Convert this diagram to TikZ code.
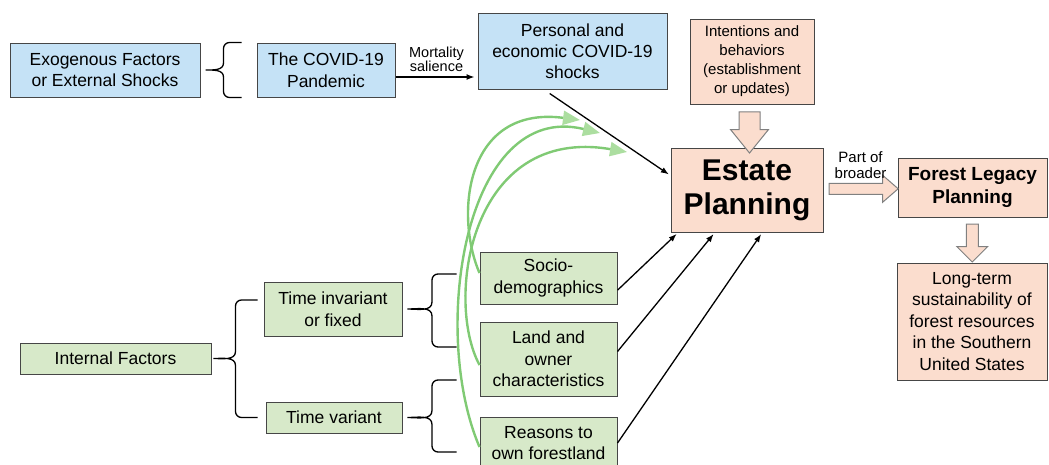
\documentclass[tikz,border=0pt]{standalone}
\usepackage{fontspec}
\setmainfont{Liberation Sans}
\usetikzlibrary{calc}
\usetikzlibrary{positioning}
\usetikzlibrary{arrows.meta}
\usetikzlibrary{shapes.arrows}

\definecolor{exoblue}{RGB}{197,226,246}
\definecolor{planpeach}{RGB}{251,221,206}
\definecolor{intgreen}{RGB}{215,233,201}
\definecolor{linkgreen}{RGB}{128,202,116}
\definecolor{headgreen}{RGB}{172,222,160}
\definecolor{edgegray}{RGB}{70,70,70}

% curly brace: tip, top end, bottom end
\newcommand{\curly}[3]{%
\draw[bracket] let \p1=(#1), \p2=(#2), \p3=(#3), \n1={(\x1+\x2)/2} in
  (\p2) -- ({\n1+6pt},\y2) to[out=180,in=90] (\n1,{\y2-6pt}) -- (\n1,{\y1+7pt})
  to[out=270,in=0] (\p1) to[out=0,in=90] (\n1,{\y1-7pt}) -- (\n1,{\y3+6pt})
  to[out=270,in=180] ({\n1+6pt},\y3) -- (\p3);}

\begin{document}
\begin{tikzpicture}[x=1pt,y=1pt,
box/.style={draw=edgegray,line width=1pt,align=center,inner sep=0pt,font=\fontsize{17.5}{21.5}\selectfont},
exo/.style={box,fill=exoblue},
intf/.style={box,fill=intgreen},
plan/.style={box,fill=planpeach},
bracket/.style={line width=1.3pt},
link/.style={-{Latex[length=8pt,width=6pt]},line width=1.3pt,shorten >=2pt},
greenlink/.style={-{Triangle[length=17pt,width=14pt,fill=headgreen,color=headgreen]},line width=2.4pt,draw=linkgreen},
blockarrow/.style={single arrow,draw=gray,fill=planpeach,line width=1pt,inner xsep=0pt},
downarrow/.style={blockarrow,shape border rotate=270,inner ysep=0pt}]

\useasboundingbox (0,0) rectangle (1049,-464);

% exogenous side
\node[exo,minimum width=190pt,minimum height=54pt] (exo) at (105,-70) {Exogenous Factors\\or External Shocks};
\node[exo,minimum width=138pt,minimum height=54pt] (covid) at (326,-70) {The COVID-19\\Pandemic};
\node[exo,minimum width=189pt,minimum height=76pt,font=\fontsize{17.5}{21}\selectfont] (shocks) at (572.5,-51) {Personal and\\economic COVID-19\\shocks};

% planning side
\node[plan,minimum width=124pt,minimum height=85pt,font=\fontsize{15}{19}\selectfont] (intent) at (752,-61.5) {Intentions and\\behaviors\\(establishment\\or updates)};
\node[plan,minimum width=152pt,minimum height=84pt,font=\bfseries\fontsize{30}{34}\selectfont] (estate) at (747,-190) {Estate\\Planning};
\node[plan,minimum width=149pt,minimum height=59pt,font=\bfseries\fontsize{19}{23}\selectfont] (legacy) at (972.5,-187.5) {Forest Legacy\\Planning};
\node[plan,minimum width=150pt,minimum height=117pt] (longterm) at (972,-321.5) {Long-term\\sustainability of\\forest resources\\in the Southern\\United States};

% internal side
\node[intf,minimum width=191pt,minimum height=31pt] (internal) at (115.5,-358.5) {Internal Factors};
\node[intf,minimum width=138pt,minimum height=54pt] (invariant) at (333,-309) {Time invariant\\or fixed};
\node[intf,minimum width=136pt,minimum height=31pt] (variant) at (334,-417.5) {Time variant};
\node[intf,minimum width=137pt,minimum height=52pt] (socio) at (548.5,-278) {Socio-\\demographics};
\node[intf,minimum width=137pt,minimum height=74pt] (land) at (548.5,-359) {Land and\\owner\\characteristics};
\node[intf,minimum width=137pt,minimum height=52pt] (reasons) at (548.5,-443) {Reasons to\\own forestland};

% block arrows
\node[downarrow,minimum height=41pt,inner xsep=10pt,single arrow head extend=8.5pt,single arrow tip angle=78] (intentarrow) at ($(intent.south)!0.5!(estate.north)$) {};
\node[blockarrow,minimum height=69pt,inner ysep=5pt,single arrow head extend=8pt,single arrow tip angle=82] (broadarrow) at ($(estate.east)!0.5!(legacy.west)$) {};
\node[downarrow,minimum height=38pt,inner xsep=5.5pt,single arrow head extend=9.5pt,single arrow tip angle=90] (legacyarrow) at ($(legacy.south)!0.5!(longterm.north)$) {};
\node[above=1pt of broadarrow,align=center,font=\fontsize{15}{16}\selectfont] (broader) {Part of\\broader};

% braces
\curly{[xshift=5pt]exo.east}{[xshift=-15pt]covid.north west}{[xshift=-15pt]covid.south west}
\curly{[xshift=2pt]internal.east}{[xshift=-6pt,yshift=9pt]invariant.west}{[xshift=-8pt]variant.west}
\curly{[xshift=5pt]invariant.east}{[xshift=-23pt,yshift=4pt]socio.west}{[xshift=-23pt,yshift=12pt]land.west}
\curly{[xshift=5pt]variant.east}{[xshift=-23pt,yshift=-21pt]land.west}{[xshift=-23pt,yshift=-9pt]reasons.west}

% black arrows
\coordinate (mortal) at ([yshift=-7pt]covid.east);
\draw[link,shorten >=3pt] (mortal) -- (mortal -| shocks.west) node[midway,above=1pt,align=center,font=\fontsize{14.5}{14}\selectfont] (salience) {Mortality\\salience};
\draw[link] ($(shocks.south west)!0.38!(shocks.south east)+(0,-4)$) -- ($(estate.north west)!0.33!(estate.south west)$);
\draw[link] ($(socio.north east)!0.73!(socio.south east)$) -- ($(estate.south west)!0.05!(estate.south east)$);
\draw[link] ($(land.north east)!0.4!(land.south east)$) -- ($(estate.south west)!0.29!(estate.south east)$);
\draw[link] (reasons.east) -- ($(estate.south west)!0.6!(estate.south east)$);

% green links
\coordinate (hitA) at (580,-120);
\coordinate (hitB) at (627,-152);
\coordinate (hitC) at (600,-133);
\draw[greenlink] ([yshift=5pt]socio.west) .. controls +(-25,58) and +(-115,15) .. (hitA);
\draw[greenlink] ([yshift=-6pt]land.west) .. controls +(-35,65) and +(-157,27) .. (hitB);
\draw[greenlink] ([yshift=-4pt]reasons.west) .. controls +(-50,117) and +(-135,33) .. (hitC);
\end{tikzpicture}
\end{document}
